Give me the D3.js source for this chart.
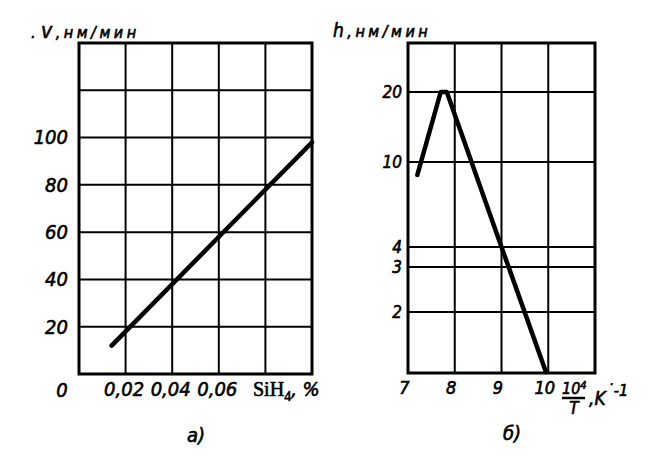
<!DOCTYPE html>
<html>
<head>
<meta charset="utf-8">
<script src="https://cdn.jsdelivr.net/npm/d3@7"></script>
<style>
body { margin: 0; background: #fff; }
text { font-family: "DejaVu Sans Condensed", "Liberation Sans Narrow", sans-serif; font-style: italic; fill: #000; stroke: #000; stroke-width: 0.6px; }
</style>
</head>
<body>
<div id="chart"></div>
<script>
// panel a: growth rate v against SiH4 content
const siH4Grid = [0, 0.02, 0.04, 0.06, 0.08, 0.1];
const siH4Labels = [0.02, 0.04, 0.06];
const vGrid = [0, 20, 40, 60, 80, 100, 120, 140];
const vLabels = [20, 40, 60, 80, 100];
const rateSiH4 = [0.014, 0.1];
const rateV = [12, 98];

// panel b: growth rate h against 10^4/T, log axis
const invTGrid = [7, 8, 9, 10, 11];
const invTLabels = [7, 8, 9, 10];
const hGrid = [2, 3, 4, 10, 20];
const hLabels = [2, 3, 4, 10, 20];
const rateInvT = [7.2, 7.7, 7.83, 9, 9.95];
const rateH = [8.7, 20, 20, 4, 1.07];

const width = 655, height = 459;
const comma = d3.formatLocale({decimal: ",", thousands: " ", grouping: [3], currency: ["", ""]});

const svg = d3.select("#chart").append("svg")
  .attr("width", width)
  .attr("height", height)
  .style("background", "#fff");

// scales
const xA = d3.scaleLinear().domain([0, 0.1]).range([79, 312]);
const yA = d3.scaleLinear().domain([0, 140]).range([374, 43]);
const xB = d3.scaleLinear().domain([7, 11]).range([408, 595]);
// hand drawn log axis, spacing is not quite even so use a piecewise log scale
const yB = d3.scaleLog()
  .domain([1.06, 2, 3, 4, 10, 20, 33.4])
  .range([373, 312, 267, 247, 162, 92, 43]);

function drawPanel(x, y, xs, ys) {
  const g = svg.append("g");
  const [x0, x1] = x.range();
  const [y0, y1] = [y(y.domain()[0]), y(y.domain()[y.domain().length - 1])];
  g.selectAll(".vg").data(xs).join("line")
    .attr("x1", d => x(d)).attr("x2", d => x(d))
    .attr("y1", y0).attr("y2", y1)
    .attr("stroke", "#000").attr("stroke-width", 2);
  g.selectAll(".hg").data(ys).join("line")
    .attr("class", "hg")
    .attr("x1", x0).attr("x2", x1)
    .attr("y1", d => y(d)).attr("y2", d => y(d))
    .attr("stroke", "#000").attr("stroke-width", 2);
  g.append("rect")
    .attr("x", x0).attr("y", y1)
    .attr("width", x1 - x0).attr("height", y0 - y1)
    .attr("fill", "none").attr("stroke", "#000").attr("stroke-width", 3);
  return g;
}

drawPanel(xA, yA, siH4Grid, vGrid);
drawPanel(xB, yB, invTGrid, hGrid);

// curves
const lineA = d3.line().x(d => xA(d[0])).y(d => yA(d[1]));
svg.append("path")
  .attr("d", lineA(d3.zip(rateSiH4, rateV)))
  .attr("fill", "none").attr("stroke", "#000")
  .attr("stroke-width", 4.5).attr("stroke-linecap", "round");

const lineB = d3.line().x(d => xB(d[0])).y(d => yB(d[1]));
svg.append("path")
  .attr("d", lineB(d3.zip(rateInvT, rateH)))
  .attr("fill", "none").attr("stroke", "#000")
  .attr("stroke-width", 4.5).attr("stroke-linecap", "round").attr("stroke-linejoin", "round");

// axes
function styleAxis(g, size) {
  g.select(".domain").remove();
  g.attr("font-family", null).attr("font-size", size);
  g.selectAll("text").attr("fill", "#000");
}

svg.append("g")
  .attr("transform", `translate(${xA(0)},0)`)
  .call(d3.axisLeft(yA).tickValues(vLabels).tickSize(0).tickPadding(11))
  .call(g => styleAxis(g, 20));

svg.append("g")
  .attr("transform", `translate(-2,${yA(0)})`)
  .call(d3.axisBottom(xA).tickValues(siH4Labels).tickSize(0).tickPadding(8).tickFormat(comma.format(".2f")))
  .call(g => styleAxis(g, 20));

svg.append("g")
  .attr("transform", `translate(${xB(7)},0)`)
  .call(d3.axisLeft(yB).tickValues(hLabels).tickSize(0).tickPadding(6).tickFormat(d3.format("d")))
  .call(g => styleAxis(g, 17));

svg.append("g")
  .attr("transform", `translate(-4,${yB(1.06)})`)
  .call(d3.axisBottom(xB).tickValues(invTLabels).tickSize(0).tickPadding(8).tickFormat(d3.format("d")))
  .call(g => styleAxis(g, 18));

// origin label of panel a
svg.append("text")
  .attr("x", xA(0) - 17).attr("y", 397)
  .attr("text-anchor", "middle").attr("font-size", 20)
  .text("0");

// axis titles
const vT = svg.append("text")
  .attr("x", 31).attr("y", 38)
  .attr("font-size", 16).attr("letter-spacing", 3.5);
vT.append("tspan").text(".");
vT.append("tspan").attr("dx", 2).attr("font-size", 21).text("v");
vT.append("tspan").text(",нм/мин");

const hT = svg.append("text")
  .attr("x", 333).attr("y", 37)
  .attr("font-size", 16).attr("letter-spacing", 3.5);
hT.append("tspan").attr("font-size", 19).text("h");
hT.append("tspan").text(",нм/мин");

const siT = svg.append("text")
  .attr("x", 253).attr("y", 396).attr("font-size", 20);
siT.append("tspan").style("font-family", "Liberation Serif").style("font-style", "normal").text("SiH");
siT.append("tspan").attr("font-size", 14).attr("dy", 5).style("font-family", "Liberation Serif").style("font-style", "normal").text("4");
siT.append("tspan").attr("dy", -5).text(", %");

const numT = svg.append("text")
  .attr("x", 562).attr("y", 394).attr("font-size", 16);
numT.append("tspan").text("10");
numT.append("tspan").attr("font-size", 11).attr("dy", -5).text("4");
svg.append("line")
  .attr("x1", 562).attr("x2", 585).attr("y1", 398).attr("y2", 398)
  .attr("stroke", "#000").attr("stroke-width", 2.5);
svg.append("text")
  .attr("x", 574).attr("y", 414).attr("text-anchor", "middle").attr("font-size", 17)
  .text("T");
const kT = svg.append("text")
  .attr("x", 589).attr("y", 405).attr("font-size", 19);
kT.append("tspan").text(",K");
kT.append("tspan").attr("font-size", 16).attr("dy", -9).attr("dx", 1).text("˙-1");

// panel captions
svg.append("text")
  .attr("x", 196).attr("y", 442).attr("text-anchor", "middle").attr("font-size", 20)
  .text("а)");
svg.append("text")
  .attr("x", 512).attr("y", 440).attr("text-anchor", "middle").attr("font-size", 20)
  .text("б)");
</script>
</body>
</html>
